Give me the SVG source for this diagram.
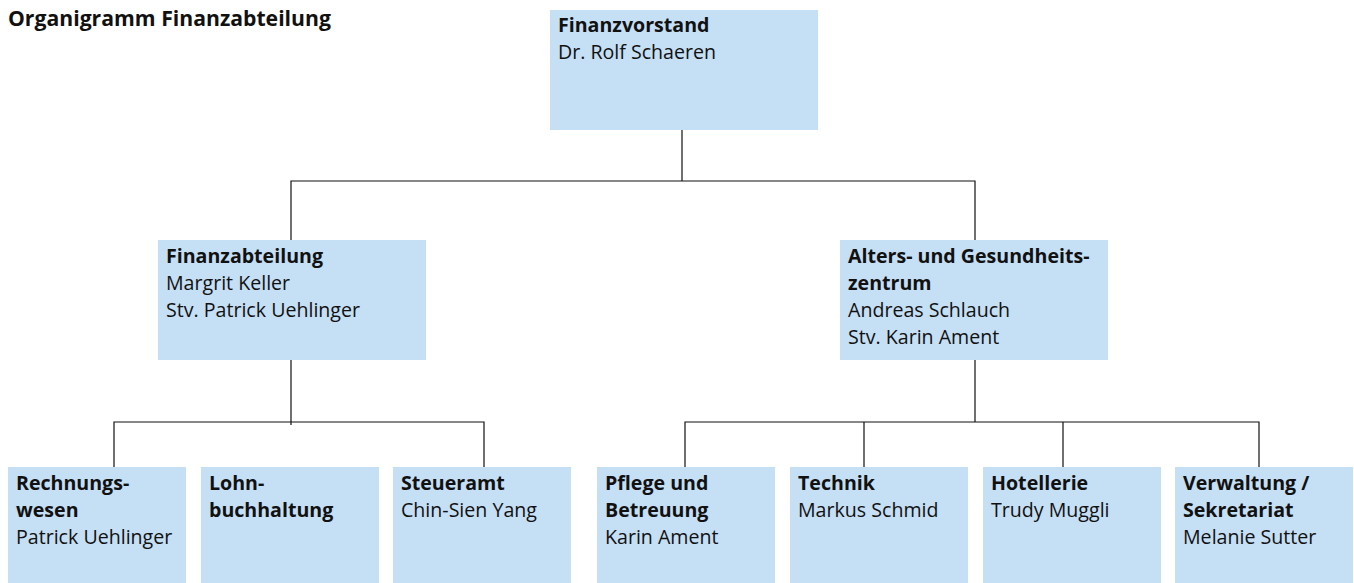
<svg xmlns="http://www.w3.org/2000/svg" width="1354" height="583" viewBox="0 0 1354 583">
<style>
.box{fill:#c5dff5}
text{font-family:"Open Sans","Noto Sans","DejaVu Sans",sans-serif;font-size:19.6px;fill:#111}
.b{font-weight:bold}
.t{font-size:21.2px}
.c{stroke:#111;stroke-width:1.2;fill:none}
</style>
<rect width="1354" height="583" fill="#fff"/>
<text class="b t" x="8" y="26">Organigramm Finanzabteilung</text>
<g id="connectors">
<path class="c" d="M682 130V181M291 240V181H975V240"/>
<path class="c" d="M291 360V425M114 467V422H484V467"/>
<path class="c" d="M975 360V422M685 467V422H1259V467M864 422V467M1063 422V467"/>
</g>
<g id="n-finanzvorstand"><rect class="box" x="550" y="10" width="268" height="120"/><text x="558"><tspan class="b" x="558" y="32">Finanzvorstand</tspan><tspan x="558" y="59">Dr. Rolf Schaeren</tspan></text></g>
<g id="n-finanzabteilung"><rect class="box" x="158" y="240" width="268" height="120"/><text><tspan class="b" x="166" y="263">Finanzabteilung</tspan><tspan x="166" y="290">Margrit Keller</tspan><tspan x="166" y="317">Stv. Patrick Uehlinger</tspan></text></g>
<g id="n-alters"><rect class="box" x="840" y="240" width="268" height="120"/><text><tspan class="b" x="848" y="263">Alters- und Gesundheits-</tspan><tspan class="b" x="848" y="290">zentrum</tspan><tspan x="848" y="317">Andreas Schlauch</tspan><tspan x="848" y="344">Stv. Karin Ament</tspan></text></g>
<g id="n-rechnungswesen"><rect class="box" x="8" y="467" width="178" height="116"/><text><tspan class="b" x="16" y="490">Rechnungs-</tspan><tspan class="b" x="16" y="517">wesen</tspan><tspan x="16" y="544">Patrick Uehlinger</tspan></text></g>
<g id="n-lohn"><rect class="box" x="201" y="467" width="178" height="116"/><text><tspan class="b" x="209" y="490">Lohn-</tspan><tspan class="b" x="209" y="517">buchhaltung</tspan></text></g>
<g id="n-steueramt"><rect class="box" x="393" y="467" width="178" height="116"/><text><tspan class="b" x="401" y="490">Steueramt</tspan><tspan x="401" y="517">Chin-Sien Yang</tspan></text></g>
<g id="n-pflege"><rect class="box" x="597" y="467" width="178" height="116"/><text><tspan class="b" x="605" y="490">Pflege und</tspan><tspan class="b" x="605" y="517">Betreuung</tspan><tspan x="605" y="544">Karin Ament</tspan></text></g>
<g id="n-technik"><rect class="box" x="790" y="467" width="178" height="116"/><text><tspan class="b" x="798" y="490">Technik</tspan><tspan x="798" y="517">Markus Schmid</tspan></text></g>
<g id="n-hotellerie"><rect class="box" x="983" y="467" width="178" height="116"/><text><tspan class="b" x="991" y="490">Hotellerie</tspan><tspan x="991" y="517">Trudy Muggli</tspan></text></g>
<g id="n-verwaltung"><rect class="box" x="1175" y="467" width="178" height="116"/><text><tspan class="b" x="1183" y="490">Verwaltung /</tspan><tspan class="b" x="1183" y="517">Sekretariat</tspan><tspan x="1183" y="544">Melanie Sutter</tspan></text></g>
</svg>
